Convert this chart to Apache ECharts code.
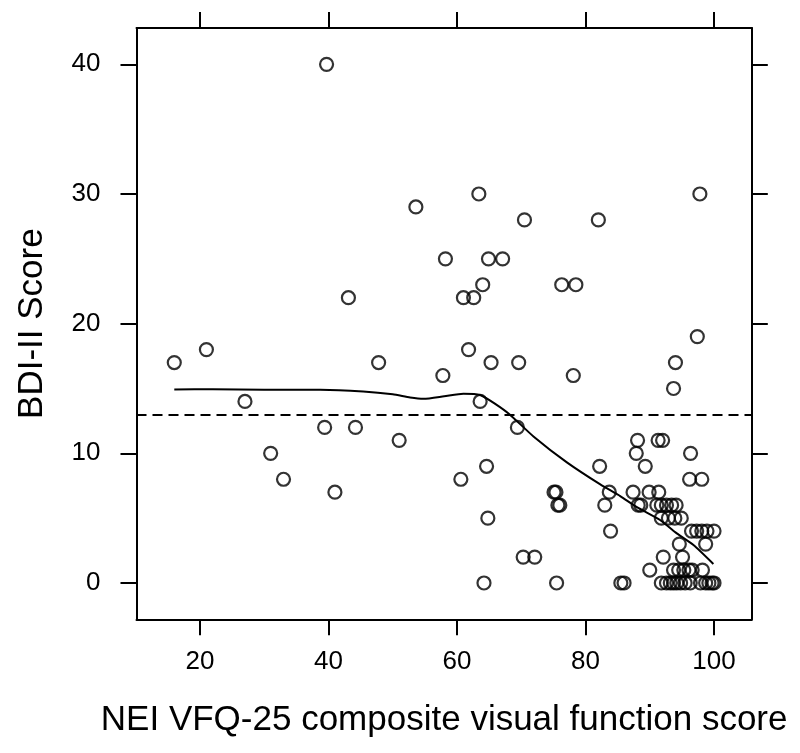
<!DOCTYPE html>
<html>
<head>
<meta charset="utf-8">
<script src="https://cdn.jsdelivr.net/npm/echarts@6/dist/echarts.min.js"></script>
<style>html,body{margin:0;padding:0;background:#fff}#c{width:800px;height:753px}</style>
</head>
<body>
<div id="c"></div>
<script>
var vfqScores = [16,21,27,31,33,39.4,39.7,41,43.1,44.2,47.8,51,53.6,57.8,58.2,60.6,61,61.8,62.6,63.4,63.6,64,64.2,64.6,64.8,64.9,65.3,67.1,69.4,69.6,70.3,70.5,72.1,75.1,75.4,75.5,75.7,76,76.3,78.1,78.5,82,82.2,83,83.7,83.9,85.5,86,87.4,87.9,88.1,88.2,88.6,89.3,89.9,90,91.1,91.3,91.4,91.8,91.8,91.8,92,92.1,92.6,92.6,92.9,93.2,93.4,93.7,93.7,93.7,93.9,94,94.1,94.2,94.5,94.6,94.8,94.9,95.1,95.3,95.5,96.1,96.2,96.3,96.35,96.5,96.6,97.3,97.4,97.8,97.9,98.1,98.1,98.2,98.7,98.7,98.9,99.2,99.7,100,100];
var bdiScores = [17,18,14,10,8,12,40,7,22,12,17,11,29,16,25,8,22,18,22,30,14,23,0,9,5,25,17,25,12,17,2,28,2,7,7,0,6,6,23,16,23,28,9,6,7,4,0,0,7,10,11,6,6,9,7,1,6,11,7,5,0,6,11,2,6,0,5,0,6,1,0,15,5,17,6,0,1,3,0,5,2,1,0,1,8,0,10,4,1,4,19,30,0,4,8,1,0,3,4,0,0,4,0];
var smoothX = [16,22,30,38.7,45.4,50,52.7,54.8,58,61,63.6,66,68.2,71.9,77.1,82.3,85.4,88,91.6,94,96.8,99.9];
var smoothY = [14.93,14.95,14.9,14.9,14.77,14.55,14.3,14.2,14.4,14.6,14.5,13.8,13.0,11.3,9.3,7.6,6.7,5.85,4.86,3.9,2.93,1.47];
var cutoff = 13;
var xTicks = [20,40,60,80,100];
var yTicks = [0,10,20,30,40];

var font = '"Liberation Sans", Arial, Helvetica, sans-serif';
var scatterData = vfqScores.map(function(v,i){return [v, bdiScores[i]];});
var lineData = smoothX.map(function(v,i){return [v, smoothY[i]];});

function xAx(pos, labels){
  return {
    type:'value', position:pos, min:10.12, max:105.88,
    splitLine:{show:false},
    axisLine:{show:true, onZero:false, lineStyle:{color:'#000', width:2}},
    axisTick:{show:true, inside:false, length:16, customValues:xTicks, lineStyle:{color:'#000', width:2}},
    axisLabel:{show:labels, customValues:xTicks, margin:30, color:'#000', fontSize:26, fontFamily:font},
    name: labels ? 'NEI VFQ-25 composite visual function score' : '',
    nameLocation:'middle', nameGap:84,
    nameTextStyle:{color:'#000', fontSize:35, fontFamily:font}
  };
}
function yAx(pos, labels){
  return {
    type:'value', position:pos, min:-2.8, max:42.8,
    splitLine:{show:false},
    axisLine:{show:true, onZero:false, lineStyle:{color:'#000', width:2}},
    axisTick:{show:true, inside:false, length:16, customValues:yTicks, lineStyle:{color:'#000', width:2}},
    axisLabel:{show:labels, customValues:yTicks, margin:36, color:'#000', fontSize:26, fontFamily:font},
    name: labels ? 'BDI-II Score' : '',
    nameLocation:'middle', nameGap:87,
    nameTextStyle:{color:'#000', fontSize:35, fontFamily:font}
  };
}

var chart = echarts.init(document.getElementById('c'), null, {renderer:'canvas'});
chart.setOption({
  animation:false,
  backgroundColor:'#fff',
  grid:{left:136.5, right:48.2, top:28, bottom:133.7},
  xAxis:[xAx('bottom', true), xAx('top', false)],
  yAxis:[yAx('left', true), yAx('right', false)],
  series:[
    {
      type:'scatter', data:scatterData, symbol:'circle', symbolSize:13,
      itemStyle:{color:'rgba(0,0,0,0)', borderColor:'#000', borderWidth:2.2},
      markLine:{
        silent:true, symbol:['none','none'], label:{show:false},
        lineStyle:{color:'#000', type:[10,6], width:1.8},
        data:[{yAxis:cutoff}]
      }
    },
    {
      type:'line', data:lineData, smooth:0.2, showSymbol:false,
      lineStyle:{color:'#000', width:2}
    }
  ]
});
</script>
</body>
</html>
